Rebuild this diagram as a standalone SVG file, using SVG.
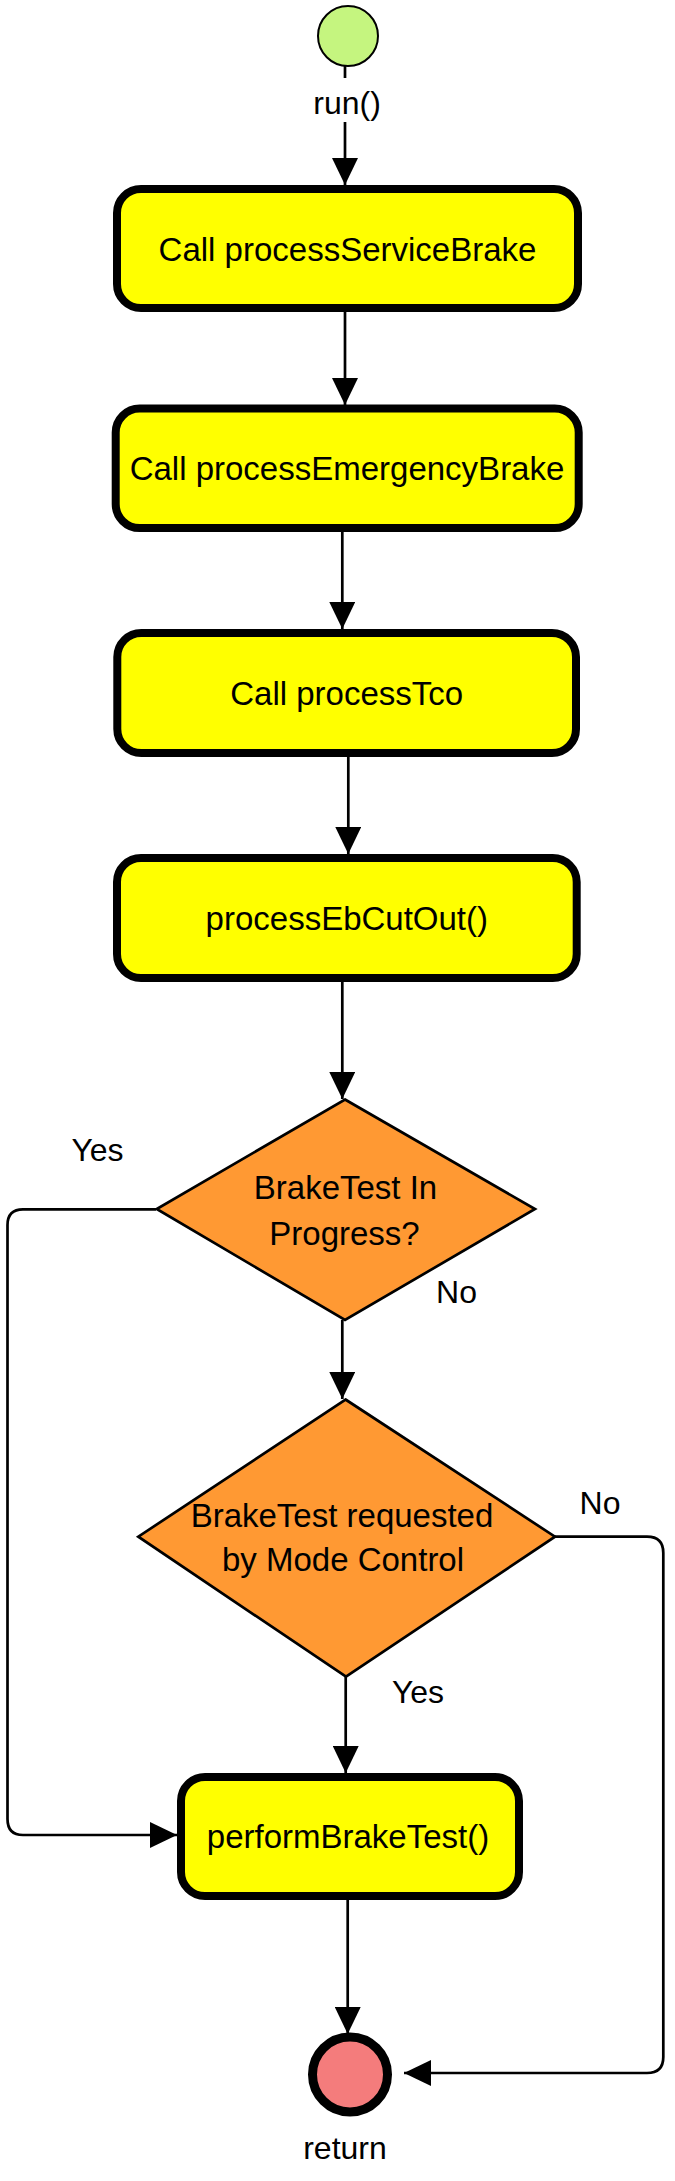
<svg xmlns="http://www.w3.org/2000/svg" width="675" height="2181" viewBox="0 0 675 2181">
<style>
text{font-family:"Liberation Sans",Arial,sans-serif;fill:#000;text-anchor:middle}
.nt{font-size:33px}
.lb{font-size:32px}
.box{fill:#ffff00;stroke:#000;stroke-width:8}
.dia{fill:#ff9933;stroke:#000;stroke-width:2.7;stroke-linejoin:miter}
.edge{fill:none;stroke:#000;stroke-width:2.7}
</style>
<defs>
<marker id="arr" viewBox="0 0 27 26" refX="27" refY="13" markerWidth="27" markerHeight="26" markerUnits="userSpaceOnUse" orient="auto">
<path d="M0,0 L27,13 L0,26 z" fill="#000"/>
</marker>
</defs>
<rect width="675" height="2181" fill="#fff"/>
<g id="connectors">
<path class="edge" d="M345,66 V185" marker-end="url(#arr)"/>
<rect x="310" y="78" width="74" height="44" fill="#fff"/>
<text class="lb" x="347" y="114">run()</text>
<path class="edge" d="M345,312 V405" marker-end="url(#arr)"/>
<path class="edge" d="M342.3,532 V629" marker-end="url(#arr)"/>
<path class="edge" d="M348.3,757 V854" marker-end="url(#arr)"/>
<path class="edge" d="M342.3,982 V1099" marker-end="url(#arr)"/>
<path class="edge" d="M342.3,1320 V1399" marker-end="url(#arr)"/>
<text class="lb" x="456.5" y="1303">No</text>
<path class="edge" d="M345.7,1677 V1773" marker-end="url(#arr)"/>
<text class="lb" x="418" y="1703">Yes</text>
<path class="edge" d="M156,1209.3 H23 Q7.5,1209.3 7.5,1225 V1819 Q7.5,1835 23,1835 H177" marker-end="url(#arr)"/>
<text class="lb" x="97.5" y="1160.7">Yes</text>
<path class="edge" d="M555,1536.7 H647 Q663.3,1536.7 663.3,1553 V2057 Q663.3,2073 647,2073 H404" marker-end="url(#arr)"/>
<text class="lb" x="600" y="1514">No</text>
<path class="edge" d="M347.7,1900 V2034" marker-end="url(#arr)"/>
</g>
<g id="start">
<circle cx="348" cy="36" r="30" fill="#c5f57f" stroke="#000" stroke-width="2"/>
</g>
<g id="node-servicebrake">
<rect class="box" x="117" y="189" width="461" height="119" rx="24"/>
<text class="nt" x="347.5" y="260.5">Call processServiceBrake</text>
</g>
<g id="node-emergencybrake">
<rect class="box" x="115.7" y="408.6" width="463" height="119.5" rx="24"/>
<text class="nt" x="347" y="480">Call processEmergencyBrake</text>
</g>
<g id="node-tco">
<rect class="box" x="117.3" y="633" width="458.7" height="120" rx="24"/>
<text class="nt" x="346.7" y="705">Call processTco</text>
</g>
<g id="node-ebcutout">
<rect class="box" x="117" y="858" width="459.7" height="120" rx="24"/>
<text class="nt" x="346.8" y="929.5">processEbCutOut()</text>
</g>
<g id="decision-inprogress">
<polygon class="dia" points="345,1099.5 535,1209 345,1320 156.7,1209"/>
<text class="nt" x="345.5" y="1199">BrakeTest In</text>
<text class="nt" x="344.5" y="1245">Progress?</text>
</g>
<g id="decision-requested">
<polygon class="dia" points="345.5,1399.5 555,1536.7 346,1676.7 138.3,1536.7"/>
<text class="nt" x="342" y="1526.7">BrakeTest requested</text>
<text class="nt" x="343" y="1570.7">by Mode Control</text>
</g>
<g id="node-performbraketest">
<rect class="box" x="181" y="1777" width="338" height="119" rx="24"/>
<text class="nt" x="348" y="1847.5">performBrakeTest()</text>
</g>
<g id="end">
<circle cx="350" cy="2074.5" r="37.5" fill="#f47c7c" stroke="#000" stroke-width="9"/>
<text class="lb" x="345" y="2159">return</text>
</g>
</svg>
